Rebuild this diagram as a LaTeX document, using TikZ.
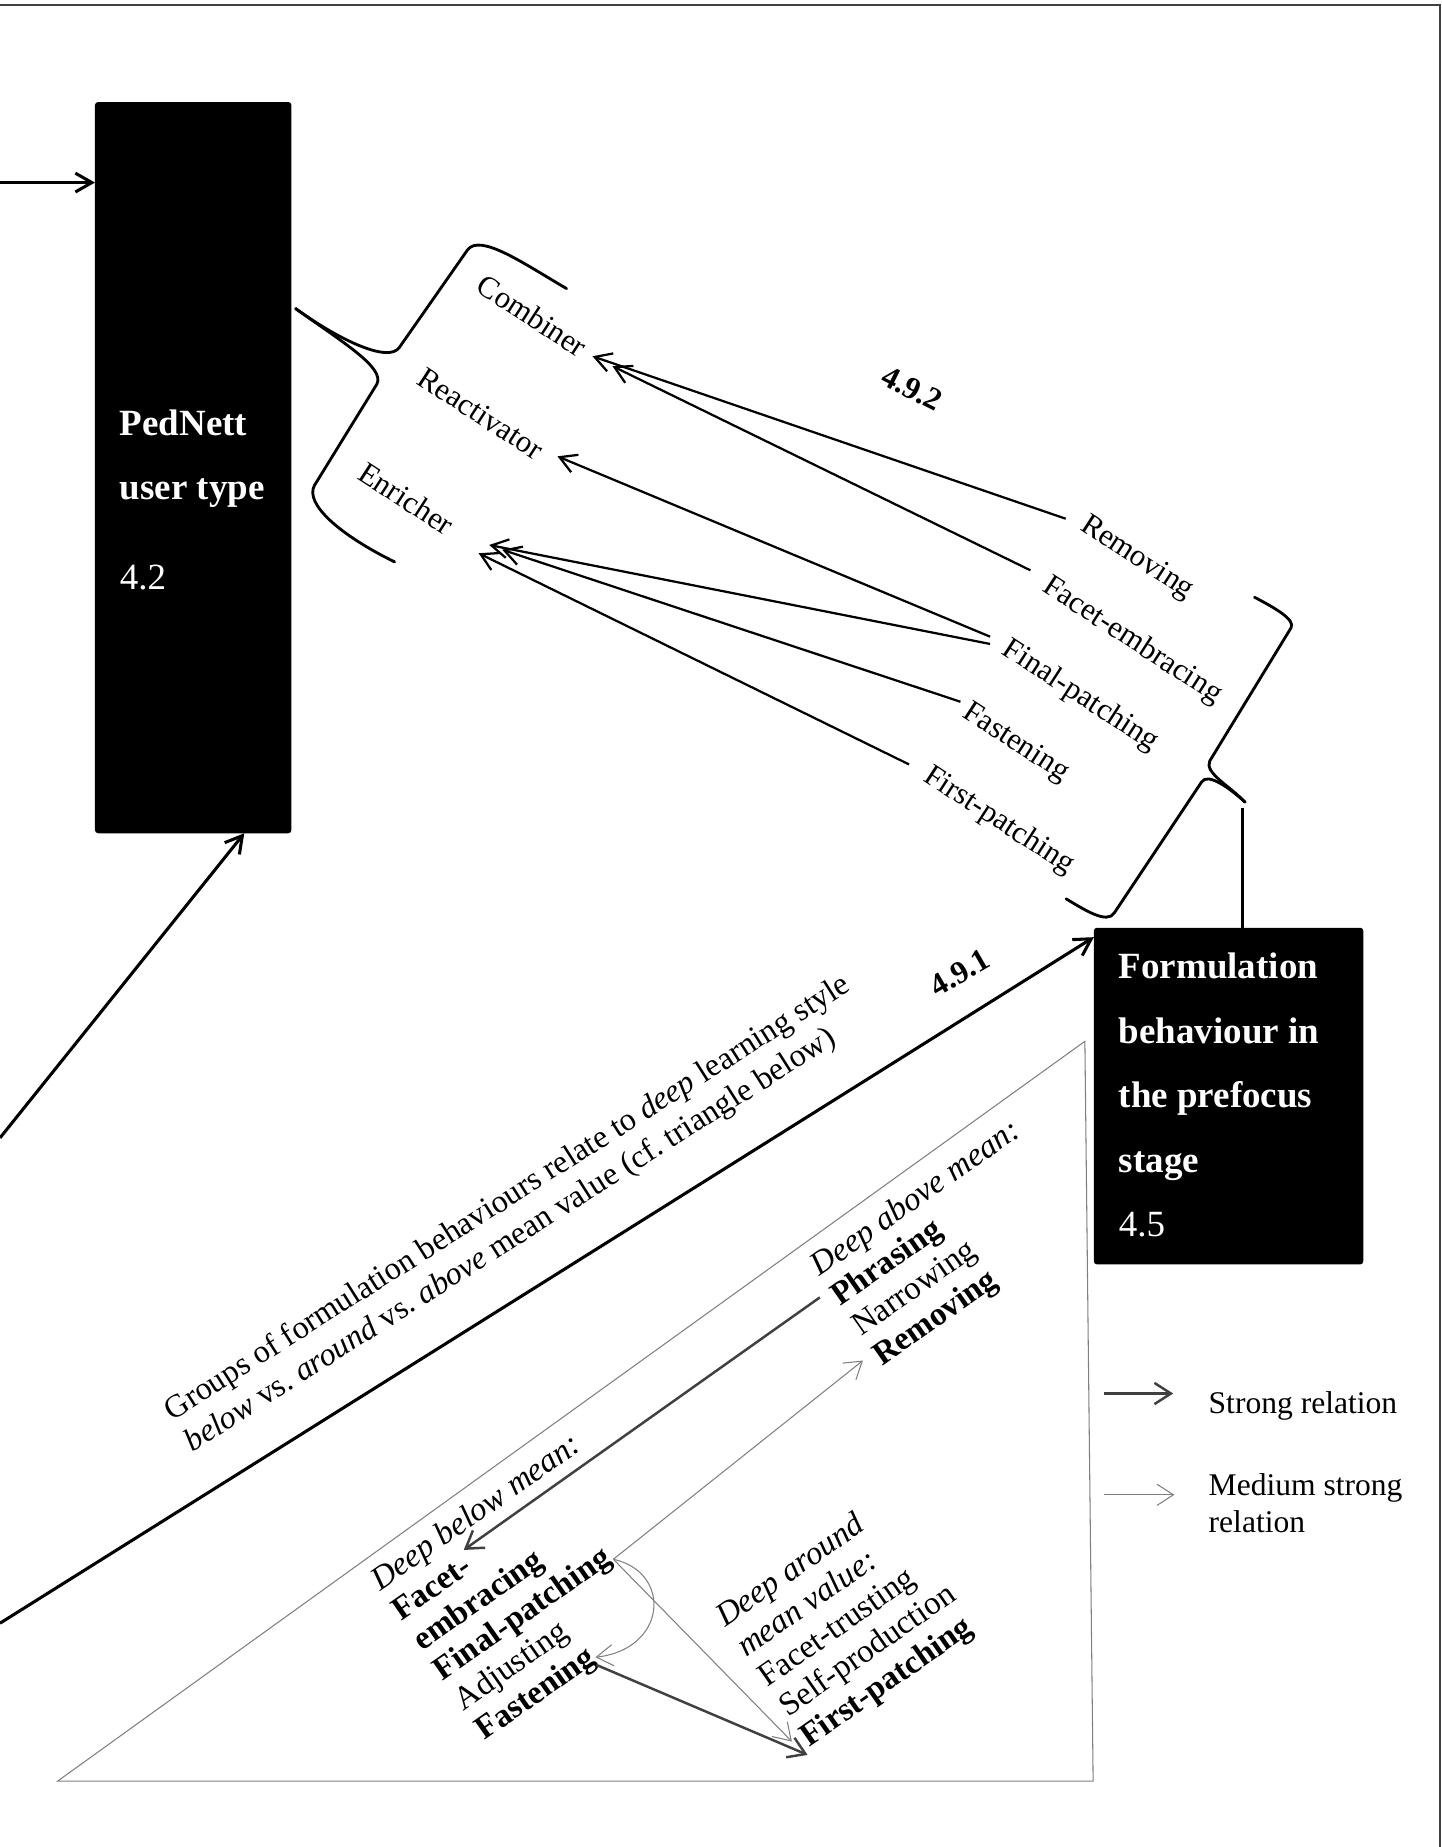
\documentclass[tikz,border=0pt]{standalone}
\usepackage{fontspec}
\setmainfont{Liberation Serif}
\usetikzlibrary{arrows.meta,calc}
\newcommand\plaintxt{\fontsize{13.4}{15.6}\selectfont}
\newcommand\grouptxt{\fontsize{13.7}{15.8}\selectfont}
\newcommand\lbltxt{\fontsize{13.1}{15}\selectfont}
\newcommand\tritxt{\fontsize{14}{15.5}\selectfont}
\newcommand\boxtxt{\fontsize{15.7}{27.4}\selectfont\bfseries}
\begin{document}
\begin{tikzpicture}[x=0.5pt,y=-0.5pt,
  >={Straight Barb[length=7pt,width=8pt]},
  blackbox/.style={fill=black,draw=black,rounded corners=1.2pt,inner sep=0pt},
  boxtext/.style={text=white,font=\boxtxt,align=left,inner sep=0pt,anchor=north west},
  lbl/.style={font=\lbltxt,inner sep=1pt,rotate=-33},
  link/.style={line width=0.95pt,->},
  heavy/.style={line width=1.3pt,->},
  brace/.style={line width=1.2pt,line cap=round,line join=round},
  strongrel/.style={draw=black!75,line width=1.05pt,-{Straight Barb[length=7pt,width=9pt]}},
  mediumrel/.style={draw=black!50,line width=0.45pt,-{Straight Barb[length=7pt,width=9pt]}},
  tri/.style={draw=black!50,line width=0.45pt},
  frameline/.style={draw=black!75,line width=0.9pt},
  note/.style={font=\tritxt,align=left,inner sep=0pt,anchor=north west}]

\useasboundingbox (0,0) rectangle (1224,1568);

% page frame
\draw[frameline] (0,4.2) -- (1222.4,4.2) -- (1222.4,1568);

% main boxes
\node[blackbox,minimum width=83pt,minimum height=310pt] (ped) at (164,397) {};
\node[boxtext] (pedtxt) at (101.3,347.4) {PedNett\\user type\\[10.5pt]{\mdseries 4.2}};

\node[blackbox,minimum width=114pt,minimum height=142.5pt] (form) at (1043,930.5) {};
\node[boxtext] (formtxt) at (949.4,808.5) {Formulation\\behaviour in\\the prefocus\\stage\\{\mdseries 4.5}};

% incoming arrows of the user type box
\coordinate (inA) at (0,155);
\coordinate (inB) at (0,966);
\draw[heavy] (inA) -- (inA -| ped.west);
\draw[heavy] (inB) -- ($(ped.south west)!0.76!(ped.south east)$);

% arrow 4.9.1
\coordinate (inC) at (0,1378);
\draw[heavy] (inC) -- ($(form.north west)+(0,8)$);
\node[font=\plaintxt\bfseries,rotate=30,inner sep=0pt] (n491) at (815,826) {4.9.1};

% group statement
\node[font=\grouptxt,align=left,inner sep=0pt,anchor=north west,rotate=32.4] (groups) at (135.5,1190)
  {Groups of formulation behaviours relate to \textit{deep} learning style\\
   \textit{below} vs.\ \textit{around} vs.\ \textit{above} mean value (cf.\ triangle below)};

% user type labels and brace
\node[lbl] (comb) at (452,268) {Combiner};
\node[lbl] (react) at (408,351) {Reactivator};
\node[lbl] (enr) at (345,423) {Enricher};
\draw[brace] (481,245) .. controls (445,224) and (408,198) .. (397,212) -- (339,295)
  .. controls (330,308) and (290,290) .. (251,262);
\draw[brace] (251,262) .. controls (290,290) and (327,312) .. (320,326) -- (267,412)
  .. controls (258,428) and (290,455) .. (335,477);

% behaviour labels and brace
\node[lbl] (remo) at (965,474) {Removing};
\node[lbl] (facet) at (961,544) {Facet-embracing};
\node[lbl] (finp) at (917,591) {Final-patching};
\node[lbl] (fast) at (862,631) {Fastening};
\node[lbl] (firp) at (848,697) {First-patching};
\draw[brace] (1065,507) .. controls (1082,516) and (1100,526) .. (1096,533) -- (1027,646)
  .. controls (1022,656) and (1045,668) .. (1057,681);
\draw[brace] (1057,681) .. controls (1045,670) and (1025,655) .. (1020,664) -- (946,775)
  .. controls (940,785) and (920,772) .. (905,763);
\coordinate (brtip) at (1055,686);
\draw[line width=1.2pt] (brtip) -- (brtip |- form.north);

\node[font=\plaintxt\bfseries,rotate=-27,inner sep=0pt] (n492) at (774.5,330) {4.9.2};

% relations between behaviours and user types
\draw[link] ($(remo.west)+(-12.5,-2.6)$) -- ($(comb.east)+(5,4.6)$);
\draw[link] ($(facet.west)+(-10.4,-10.6)$) -- ($(comb.east)+(22,13)$);
\draw[link] ($(finp.west)+(-10.4,-7.6)$) -- ($(react.east)+(12.6,2.2)$);
\draw[link] ($(finp.west)+(-10.4,-1.4)$) -- ($(enr.east)+(30.5,13.8)$);
\draw[link] ($(fast.west)+(-1.9,-6.2)$) -- ($(enr.east)+(41.5,17.8)$);
\draw[link] ($(firp.west)+(-12.6,-6.7)$) -- ($(enr.east)+(21.5,20.8)$);

% triangle of deep learning style groups
\draw[tri] (921,884) -- (928,1512) -- (49,1512) -- cycle;
\node[note,rotate=35] (above) at (684,1068)
  {\textit{Deep above mean:}\\\textbf{Phrasing}\\Narrowing\\\textbf{Removing}};
\node[note,rotate=35] (below) at (311,1335)
  {\textit{Deep below mean:}\\\textbf{Facet-}\\\textbf{embracing}\\\textbf{Final-patching}\\Adjusting\\\textbf{Fastening}};
\node[note,rotate=35] (around) at (604,1366)
  {\textit{Deep around}\\\textit{mean value:}\\Facet-trusting\\Self-production\\\textbf{First-patching}};

\draw[strongrel] ($(above.north west)+(12,33.4)$) -- ($(below.north west)+(82.7,-19.2)$);
\draw[mediumrel] ($(below.north west)+(209.7,-11.3)$) -- ($(above.north west)+(48.6,87)$);
\draw[mediumrel] ($(below.north west)+(209.7,-11.3)$) .. controls +(50,11) and +(61,-7) .. ($(below.north west)+(194.5,71.9)$);
\draw[mediumrel] ($(below.north west)+(209.7,-11.3)$) -- ($(around.north west)+(68.3,112.5)$);
\draw[strongrel] ($(below.north west)+(195.3,78.4)$) -- ($(around.north west)+(81.6,123.8)$);

% legend
\coordinate (lgSa) at (937,1183);
\coordinate (lgSb) at (996,1183);
\coordinate (lgMa) at (937,1269);
\coordinate (lgMb) at (997,1269);
\draw[strongrel] (lgSa) -- (lgSb);
\draw[mediumrel] (lgMa) -- (lgMb);
\node[font=\plaintxt,inner sep=0pt,anchor=base west] (lgS) at (1025.7,1199.6) {Strong relation};
\node[font=\plaintxt,align=left,inner sep=0pt,anchor=north west] (lgM) at (1025.7,1251) {Medium strong\\relation};
\end{tikzpicture}
\end{document}
